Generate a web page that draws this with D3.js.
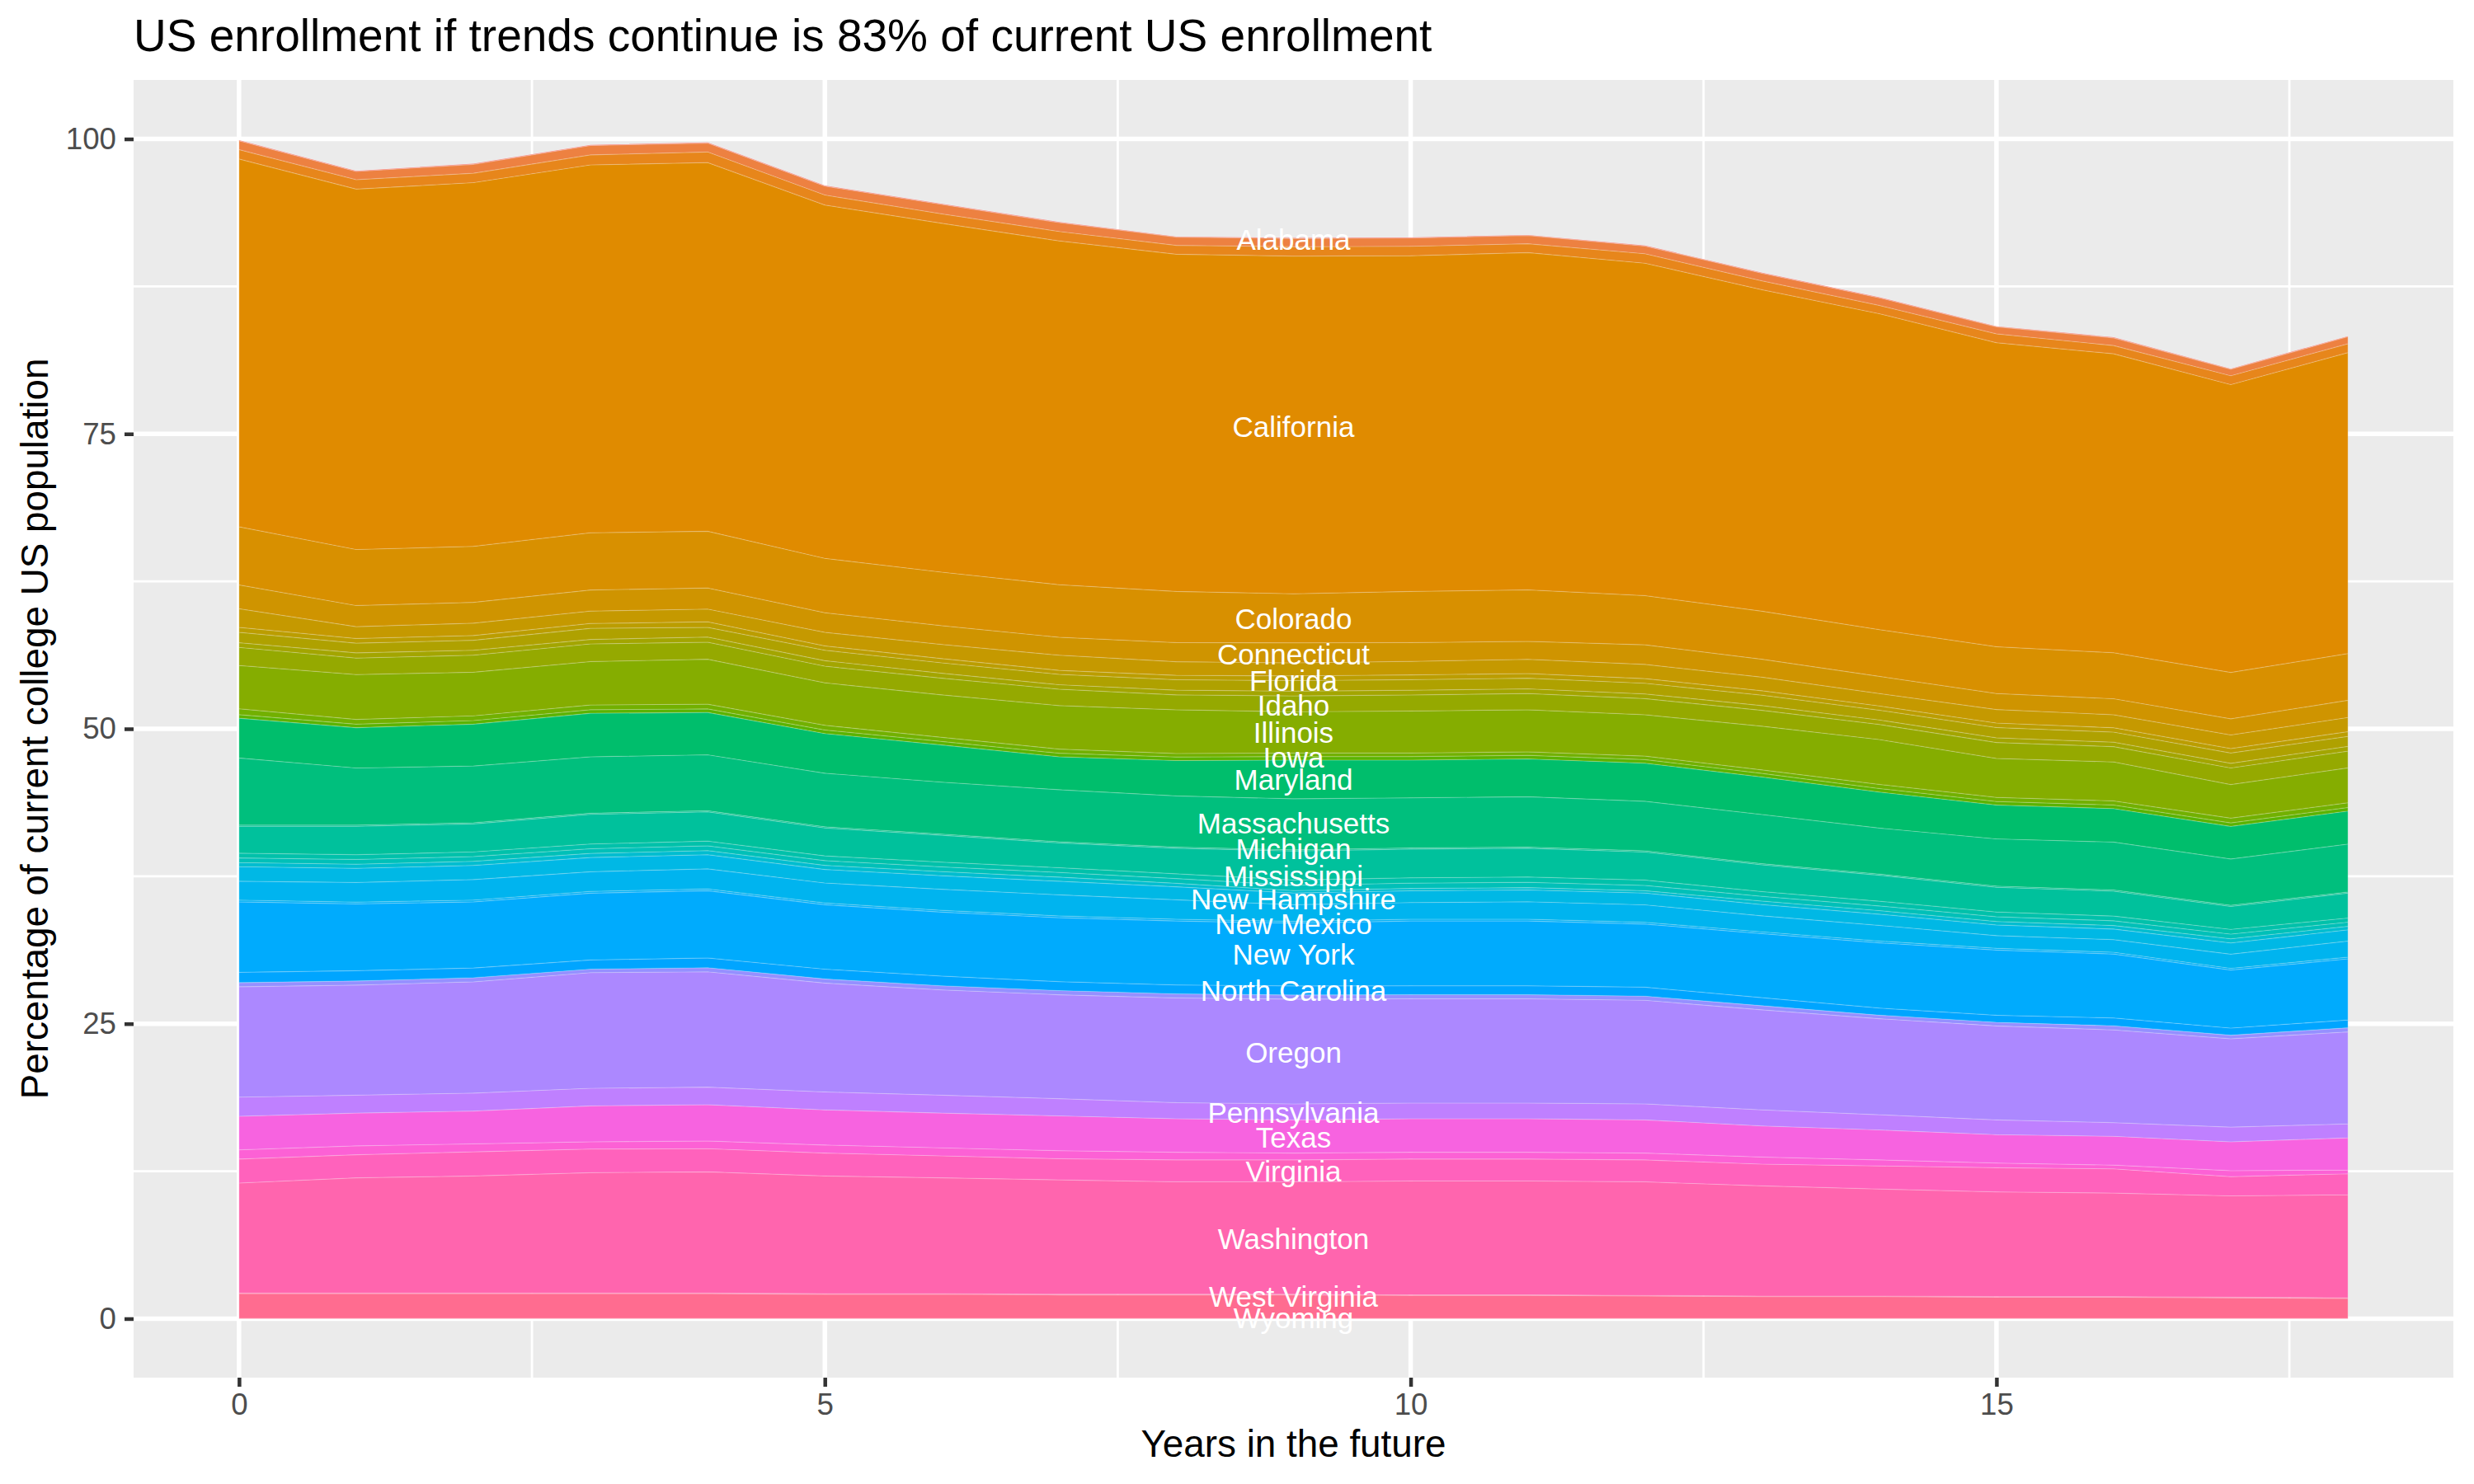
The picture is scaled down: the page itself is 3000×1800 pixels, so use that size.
<!DOCTYPE html>
<html>
<head>
<meta charset="utf-8">
<script src="https://cdn.jsdelivr.net/npm/d3@7"></script>
<style>
  body { margin: 0; background: #fff; }
  svg { display: block; }
  text { font-family: "Liberation Sans", Arial, Helvetica, sans-serif; }
</style>
</head>
<body>
<svg id="chart" width="3000" height="1800"></svg>
<script>
// years in the future (x)
const years = [0, 1, 2, 3, 4, 5, 6, 7, 8, 9, 10, 11, 12, 13, 14, 15, 16, 17, 18];

// every state, in factor order (sets the hue palette)
const allStates = ["Alabama", "Alaska", "Arizona", "Arkansas", "California", "Colorado", "Connecticut",
  "Delaware", "Florida", "Georgia", "Hawaii", "Idaho", "Illinois", "Indiana", "Iowa", "Kansas",
  "Kentucky", "Louisiana", "Maine", "Maryland", "Massachusetts", "Michigan", "Minnesota",
  "Mississippi", "Missouri", "Montana", "Nebraska", "Nevada", "New Hampshire", "New Jersey",
  "New Mexico", "New York", "North Carolina", "North Dakota", "Ohio", "Oklahoma", "Oregon",
  "Pennsylvania", "Rhode Island", "South Carolina", "South Dakota", "Tennessee", "Texas", "Utah",
  "Vermont", "Virginia", "Washington", "West Virginia", "Wisconsin", "Wyoming"];

// percentage of current college US population, by state, years 0..18
const alabama = [0.05, 0.05, 0.05, 0.05, 0.05, 0.05, 0.05, 0.05, 0.05, 0.05, 0.05, 0.05, 0.05, 0.05, 0.05, 0.05, 0.05, 0.05, 0.05];
const arizona = [0.75, 0.7, 0.75, 0.8, 0.75, 0.75, 0.8, 0.75, 0.7, 0.7, 0.7, 0.7, 0.65, 0.65, 0.65, 0.6, 0.65, 0.55, 0.6];
const arkansas = [0.8, 0.8, 0.8, 0.85, 0.9, 0.85, 0.8, 0.8, 0.75, 0.8, 0.8, 0.75, 0.8, 0.75, 0.7, 0.75, 0.7, 0.75, 0.75];
const california = [31.17, 30.55, 30.83, 31.18, 31.25, 29.95, 29.57, 29.14, 28.58, 28.62, 28.45, 28.59, 28.18, 27.25, 26.78, 25.77, 25.34, 24.4, 25.51];
const colorado = [4.93, 4.75, 4.75, 4.85, 4.81, 4.61, 4.54, 4.46, 4.34, 4.16, 4.34, 4.37, 4.17, 4.07, 3.96, 3.97, 3.9, 3.93, 3.96];
const connecticut = [2.02, 1.79, 1.76, 1.79, 1.79, 1.66, 1.59, 1.52, 1.62, 1.7, 1.59, 1.52, 1.66, 1.52, 1.46, 1.35, 1.36, 1.37, 1.46];
const delaware = [1.58, 1.0, 1.05, 1.05, 1.08, 1.15, 1.2, 1.28, 1.15, 1.1, 1.15, 1.2, 1.2, 1.15, 1.05, 1.15, 1.1, 1.15, 1.2];
const florida = [0.42, 0.4, 0.4, 0.41, 0.47, 0.37, 0.36, 0.34, 0.38, 0.4, 0.4, 0.4, 0.4, 0.38, 0.36, 0.38, 0.37, 0.38, 0.4];
const georgia = [0.88, 0.82, 0.85, 0.94, 0.82, 0.88, 0.88, 0.88, 0.88, 0.9, 0.9, 0.9, 0.9, 0.88, 0.83, 0.87, 0.85, 0.87, 0.85];
const hawaii = [0.4, 0.44, 0.42, 0.38, 0.44, 0.47, 0.42, 0.38, 0.4, 0.4, 0.4, 0.4, 0.4, 0.4, 0.38, 0.4, 0.38, 0.4, 0.4];
const idaho = [1.53, 1.4, 1.44, 1.5, 1.44, 1.41, 1.41, 1.39, 1.27, 1.34, 1.36, 1.38, 1.37, 1.35, 1.28, 1.35, 1.3, 1.4, 1.42];
const illinois = [3.67, 3.8, 3.7, 3.68, 3.81, 3.6, 3.6, 3.69, 3.7, 3.5, 3.56, 3.56, 3.5, 3.7, 3.8, 3.3, 3.3, 2.85, 2.96];
const indiana = [0.5, 0.4, 0.4, 0.4, 0.4, 0.4, 0.35, 0.35, 0.3, 0.3, 0.3, 0.3, 0.3, 0.3, 0.35, 0.35, 0.35, 0.4, 0.4];
const iowa = [0.3, 0.3, 0.3, 0.3, 0.3, 0.3, 0.3, 0.3, 0.3, 0.3, 0.3, 0.3, 0.3, 0.3, 0.3, 0.3, 0.3, 0.3, 0.3];
const maryland = [3.37, 3.42, 3.55, 3.69, 3.59, 3.36, 3.15, 2.79, 2.99, 3.28, 3.2, 3.2, 3.23, 3.18, 3.05, 2.87, 2.84, 2.76, 2.8];
const massachusetts = [5.69, 4.84, 4.81, 4.78, 4.74, 4.54, 4.4, 4.41, 4.34, 4.33, 4.24, 4.27, 4.2, 4.17, 3.9, 4.0, 4.06, 3.93, 4.06];
const michigan = [0.1, 0.1, 0.1, 0.1, 0.1, 0.1, 0.1, 0.1, 0.1, 0.1, 0.1, 0.1, 0.1, 0.1, 0.1, 0.1, 0.1, 0.1, 0.1];
const minnesota = [2.28, 2.41, 2.37, 2.51, 2.48, 2.37, 2.28, 2.1, 2.17, 2.45, 2.44, 2.44, 2.38, 2.27, 2.2, 2.1, 2.11, 1.94, 2.11];
const mississippi = [0.4, 0.4, 0.4, 0.4, 0.4, 0.4, 0.4, 0.4, 0.4, 0.45, 0.45, 0.45, 0.45, 0.4, 0.4, 0.4, 0.4, 0.4, 0.35];
const missouri = [0.4, 0.4, 0.4, 0.4, 0.4, 0.4, 0.4, 0.4, 0.4, 0.45, 0.45, 0.45, 0.45, 0.4, 0.4, 0.4, 0.4, 0.4, 0.35];
const nebraska = [0.35, 0.35, 0.35, 0.35, 0.35, 0.35, 0.35, 0.35, 0.3, 0.2, 0.2, 0.2, 0.2, 0.3, 0.3, 0.3, 0.3, 0.35, 0.3];
const newHampshire = [1.23, 1.2, 1.2, 1.2, 1.2, 1.15, 1.15, 1.15, 1.1, 1.0, 1.0, 1.0, 1.0, 0.95, 0.95, 0.9, 0.9, 0.95, 0.95];
const newJersey = [1.6, 1.67, 1.74, 1.67, 1.7, 1.69, 1.79, 1.79, 1.65, 1.41, 1.41, 1.48, 1.48, 1.36, 1.33, 1.07, 1.07, 1.2, 1.36];
const newMexico = [0.15, 0.15, 0.15, 0.15, 0.15, 0.15, 0.15, 0.15, 0.15, 0.15, 0.15, 0.15, 0.15, 0.15, 0.15, 0.15, 0.15, 0.15, 0.15];
const newYork = [5.97, 5.66, 5.6, 5.66, 5.7, 5.46, 5.42, 5.42, 5.42, 5.32, 5.49, 5.49, 5.35, 5.43, 5.53, 5.53, 5.42, 4.92, 5.18];
const northCarolina = [0.87, 0.87, 0.83, 0.78, 0.83, 0.83, 0.82, 0.76, 0.75, 0.77, 0.75, 0.75, 0.76, 0.68, 0.6, 0.6, 0.66, 0.6, 0.66];
const oklahoma = [0.35, 0.35, 0.35, 0.3, 0.35, 0.35, 0.35, 0.35, 0.35, 0.35, 0.35, 0.35, 0.35, 0.35, 0.3, 0.3, 0.35, 0.3, 0.35];
const oregon = [9.36, 9.33, 9.43, 9.8, 9.77, 9.23, 8.92, 8.81, 8.88, 8.88, 8.84, 8.84, 8.78, 8.48, 8.14, 7.97, 7.86, 7.49, 7.8];
const pennsylvania = [1.62, 1.52, 1.52, 1.49, 1.49, 1.52, 1.52, 1.46, 1.36, 1.36, 1.33, 1.33, 1.36, 1.36, 1.29, 1.25, 1.16, 1.25, 1.18];
const texas = [2.85, 2.78, 2.78, 3.05, 3.08, 2.98, 2.95, 2.95, 2.84, 2.81, 2.84, 2.84, 2.81, 2.64, 2.54, 2.41, 2.44, 2.44, 2.73];
const utah = [0.78, 0.75, 0.68, 0.61, 0.65, 0.68, 0.68, 0.68, 0.65, 0.58, 0.58, 0.58, 0.58, 0.6, 0.51, 0.39, 0.32, 0.51, 0.32];
const virginia = [2.03, 1.96, 2.04, 2.0, 1.96, 1.94, 1.86, 1.79, 1.86, 1.86, 1.86, 1.86, 1.86, 1.84, 1.96, 2.05, 2.05, 1.63, 1.78];
const washington = [9.33, 9.77, 9.93, 10.21, 10.28, 9.98, 9.82, 9.7, 9.53, 9.53, 9.65, 9.65, 9.63, 9.34, 9.07, 8.88, 8.78, 8.59, 8.73];
const westVirginia = [0.05, 0.05, 0.05, 0.05, 0.05, 0.05, 0.05, 0.05, 0.05, 0.05, 0.05, 0.05, 0.05, 0.05, 0.05, 0.05, 0.05, 0.05, 0.05];
const wisconsin = [2.1, 2.1, 2.1, 2.1, 2.1, 2.05, 2.05, 2.0, 2.0, 2.0, 1.95, 1.95, 1.9, 1.85, 1.85, 1.8, 1.8, 1.75, 1.7];
const wyoming = [0.02, 0.02, 0.02, 0.02, 0.02, 0.02, 0.02, 0.02, 0.02, 0.02, 0.02, 0.02, 0.02, 0.02, 0.02, 0.02, 0.02, 0.02, 0.02];

// state name labels drawn at year 9 (value = vertical position)
const labelStates = ["Alabama", "California", "Colorado", "Connecticut", "Florida", "Idaho", "Illinois",
  "Iowa", "Maryland", "Massachusetts", "Michigan", "Mississippi", "New Hampshire", "New Mexico",
  "New York", "North Carolina", "Oregon", "Pennsylvania", "Texas", "Virginia", "Washington",
  "West Virginia", "Wyoming"];
const labelY = [91.5, 75.6, 59.3, 56.3, 54.1, 52.0, 49.7, 47.6, 45.7, 42.0, 39.8, 37.5, 35.6, 33.5,
  30.9, 27.8, 22.6, 17.5, 15.4, 12.5, 6.8, 1.9, 0.1];
const labelYear = 9;

const xTicks = [0, 5, 10, 15];
const xMinor = [2.5, 7.5, 12.5, 17.5];
const yTicks = [0, 25, 50, 75, 100];
const yMinor = [12.5, 37.5, 62.5, 87.5];

const bands = [
  ["Alabama", alabama], ["Arizona", arizona], ["Arkansas", arkansas], ["California", california],
  ["Colorado", colorado], ["Connecticut", connecticut], ["Delaware", delaware], ["Florida", florida],
  ["Georgia", georgia], ["Hawaii", hawaii], ["Idaho", idaho], ["Illinois", illinois],
  ["Indiana", indiana], ["Iowa", iowa], ["Maryland", maryland], ["Massachusetts", massachusetts],
  ["Michigan", michigan], ["Minnesota", minnesota], ["Mississippi", mississippi],
  ["Missouri", missouri], ["Nebraska", nebraska], ["New Hampshire", newHampshire],
  ["New Jersey", newJersey], ["New Mexico", newMexico], ["New York", newYork],
  ["North Carolina", northCarolina], ["Oklahoma", oklahoma], ["Oregon", oregon],
  ["Pennsylvania", pennsylvania], ["Texas", texas], ["Utah", utah], ["Virginia", virginia],
  ["Washington", washington], ["West Virginia", westVirginia], ["Wisconsin", wisconsin],
  ["Wyoming", wyoming]
];

// R's hcl() (polar LUV) -> hex, as used by ggplot's default hue scale
function hcl(h, c, l) {
  const hr = h * Math.PI / 180;
  const U = c * Math.cos(hr), V = c * Math.sin(hr);
  const Y = 100 * (l > 7.999592 ? Math.pow((l + 16) / 116, 3) : l / 903.3);
  const u = U / (13 * l) + 0.1978398;
  const v = V / (13 * l) + 0.4683363;
  const X = 9 * Y * u / (4 * v);
  const Z = -X / 3 - 5 * Y + 3 * Y / v;
  const gam = t => t > 0.00304 ? 1.055 * Math.pow(t, 1 / 2.4) - 0.055 : 12.92 * t;
  const cl = t => Math.round(255 * Math.max(0, Math.min(1, gam(t))));
  const r = cl((3.240479 * X - 1.537150 * Y - 0.498535 * Z) / 100);
  const g = cl((-0.969256 * X + 1.875992 * Y + 0.041556 * Z) / 100);
  const b = cl((0.055648 * X - 0.204043 * Y + 1.057311 * Z) / 100);
  return d3.rgb(r, g, b).formatHex();
}
const hueColor = name => {
  const i = allStates.indexOf(name);
  return hcl(15 + 360 * i / allStates.length, 100, 65);
};

const svg = d3.select('#chart');
const panel = { left: 162, right: 2975, top: 97, bottom: 1671 };

const x = d3.scaleLinear().domain([-0.9, 18.9]).range([panel.left, panel.right]);
const y = d3.scaleLinear().domain([-5, 105]).range([panel.bottom, panel.top]);

// panel + grid
svg.append('rect')
  .attr('x', panel.left).attr('y', panel.top)
  .attr('width', panel.right - panel.left).attr('height', panel.bottom - panel.top)
  .attr('fill', '#EBEBEB');

const grid = svg.append('g');
xMinor.forEach(v => grid.append('line').attr('x1', x(v)).attr('x2', x(v))
  .attr('y1', panel.top).attr('y2', panel.bottom).attr('stroke', '#fff').attr('stroke-width', 2.8));
yMinor.forEach(v => grid.append('line').attr('y1', y(v)).attr('y2', y(v))
  .attr('x1', panel.left).attr('x2', panel.right).attr('stroke', '#fff').attr('stroke-width', 2.8));
xTicks.forEach(v => grid.append('line').attr('x1', x(v)).attr('x2', x(v))
  .attr('y1', panel.top).attr('y2', panel.bottom).attr('stroke', '#fff').attr('stroke-width', 5.5));
yTicks.forEach(v => grid.append('line').attr('y1', y(v)).attr('y2', y(v))
  .attr('x1', panel.left).attr('x2', panel.right).attr('stroke', '#fff').attr('stroke-width', 5.5));

// stacked areas: first state ends up on top, like ggplot's position_stack
const table = years.map((yr, i) => {
  const row = { year: yr };
  bands.forEach(([name, vals]) => { row[name] = vals[i]; });
  return row;
});
const keys = bands.map(b => b[0]).reverse();
const series = d3.stack().keys(keys)(table);

const area = d3.area()
  .x(d => x(d.data.year))
  .y0(d => y(d[0]))
  .y1(d => y(d[1]));

svg.append('g')
  .selectAll('path')
  .data(series)
  .join('path')
  .attr('d', area)
  .attr('fill', d => hueColor(d.key))
  .attr('stroke', 'rgba(255,255,255,0.18)')
  .attr('stroke-width', 1.2);

// state labels
svg.append('g')
  .selectAll('text')
  .data(labelStates)
  .join('text')
  .attr('x', x(labelYear))
  .attr('y', (d, i) => y(labelY[i]))
  .attr('text-anchor', 'middle')
  .attr('dominant-baseline', 'central')
  .attr('fill', '#fff')
  .style('font-size', '35px')
  .text(d => d);

// axes
const yAxis = svg.append('g')
  .attr('transform', `translate(${panel.left},0)`)
  .call(d3.axisLeft(y).tickValues(yTicks).tickSize(11).tickPadding(10));
const xAxis = svg.append('g')
  .attr('transform', `translate(0,${panel.bottom})`)
  .call(d3.axisBottom(x).tickValues(xTicks).tickSize(11).tickPadding(8));
[yAxis, xAxis].forEach(ax => {
  ax.select('.domain').remove();
  ax.selectAll('.tick line').attr('stroke', '#333333').attr('stroke-width', 4.5);
  ax.selectAll('.tick text')
    .attr('fill', '#4D4D4D')
    .style('font-size', '36.7px')
    .style('font-family', '"Liberation Sans", Arial, Helvetica, sans-serif');
});

// titles
svg.append('text')
  .attr('x', panel.left).attr('y', 62)
  .style('font-size', '55px')
  .attr('fill', '#000')
  .text('US enrollment if trends continue is 83% of current US enrollment');

svg.append('text')
  .attr('x', (panel.left + panel.right) / 2).attr('y', 1767)
  .attr('text-anchor', 'middle')
  .style('font-size', '45.8px')
  .text('Years in the future');

svg.append('text')
  .attr('transform', `translate(58,${(panel.top + panel.bottom) / 2}) rotate(-90)`)
  .attr('text-anchor', 'middle')
  .style('font-size', '45.8px')
  .text('Percentage of current college US population');
</script>
</body>
</html>
